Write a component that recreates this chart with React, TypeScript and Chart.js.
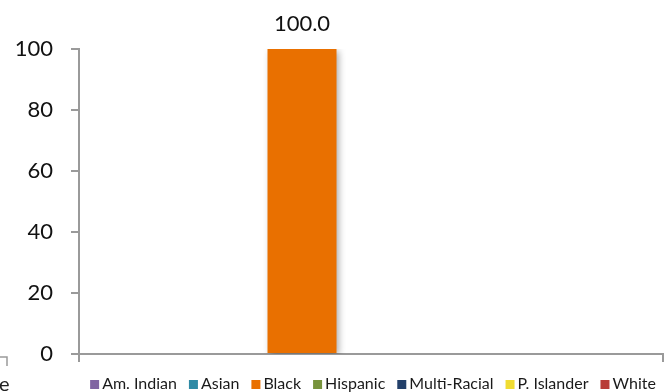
import React, { useEffect, useRef } from "react";
import { Chart, registerables } from "chart.js";

Chart.register(...registerables);

const categories = [""];
const seriesNames = ["Am. Indian", "Asian", "Black", "Hispanic", "Multi-Racial", "P. Islander", "White"];
const seriesValues: (number | null)[] = [null, null, 100, null, null, null, null];
const seriesColors = ["#8064a2", "#2f8aa5", "#e97000", "#77933c", "#23406a", "#f0dc32", "#b83c37"];
const yMin = 0;
const yMax = 100;
const yStep = 20;

const FONT = "Lato, 'Open Sans', sans-serif";
const AXIS_COLOR = "#9a9a9a";

const shadowPlugin = {
  id: "barShadow",
  beforeDatasetsDraw(chart: any) {
    const ctx = chart.ctx;
    ctx.save();
    ctx.shadowColor = "rgba(0,0,0,0.35)";
    ctx.shadowBlur = 7;
    ctx.shadowOffsetX = 2;
    ctx.shadowOffsetY = 2;
  },
  afterDatasetsDraw(chart: any) {
    chart.ctx.restore();
  },
};

const valueLabelPlugin = {
  id: "valueLabels",
  afterDatasetsDraw(chart: any) {
    const ctx = chart.ctx;
    ctx.save();
    ctx.font = `22px ${FONT}`;
    ctx.fillStyle = "#111";
    ctx.textAlign = "center";
    ctx.textBaseline = "alphabetic";
    chart.data.datasets.forEach((ds: any, i: number) => {
      const meta = chart.getDatasetMeta(i);
      meta.data.forEach((el: any, j: number) => {
        const v = ds.data[j];
        if (v === null || v === undefined) return;
        ctx.fillText(Number(v).toFixed(1), el.x, el.y - 18);
      });
    });
    ctx.restore();
  },
};

const legendPlugin = {
  id: "customLegend",
  afterDraw(chart: any) {
    const ctx = chart.ctx;
    ctx.save();
    ctx.font = `16px ${FONT}`;
    const box = 9;
    const boxGap = 3;
    const itemGap = 12;
    const items = chart.data.datasets.map((ds: any) => ({
      label: ds.label as string,
      color: ds.backgroundColor as string,
      w: ctx.measureText(ds.label).width,
    }));
    const total =
      items.reduce((s: number, it: any) => s + box + boxGap + it.w, 0) + itemGap * (items.length - 1);
    const center = 373;
    let x = center - total / 2;
    const baseline = 389;
    items.forEach((it: any) => {
      ctx.fillStyle = it.color;
      ctx.fillRect(x, baseline - box, box, box);
      ctx.fillStyle = "#1a1a1a";
      ctx.textAlign = "left";
      ctx.textBaseline = "alphabetic";
      ctx.fillText(it.label, x + box + boxGap, baseline);
      x += box + boxGap + it.w + itemGap;
    });
    // cropped fragment of neighbouring content at the bottom-left edge
    ctx.strokeStyle = AXIS_COLOR;
    ctx.lineWidth = 1.5;
    ctx.beginPath();
    ctx.moveTo(0, 357);
    ctx.lineTo(7, 357);
    ctx.lineTo(7, 366);
    ctx.stroke();
    ctx.font = `20px ${FONT}`;
    ctx.fillStyle = "#222";
    ctx.fillText("e", -1, 391);
    ctx.restore();
  },
};

export default function App() {
  const ref = useRef<HTMLCanvasElement | null>(null);

  useEffect(() => {
    if (!ref.current) return;
    const chart = new Chart(ref.current, {
      type: "bar",
      data: {
        labels: categories,
        datasets: seriesNames.map((name, i) => ({
          label: name,
          data: [seriesValues[i]],
          backgroundColor: seriesColors[i],
          borderWidth: 0,
          categoryPercentage: 0.827,
          barPercentage: 1.0,
        })),
      },
      options: {
        responsive: false,
        animation: false,
        layout: { padding: { top: 49, right: 3, bottom: 30, left: 0 } },
        plugins: {
          legend: { display: false },
          tooltip: { enabled: false },
          title: { display: false },
        },
        scales: {
          x: {
            grid: {
              display: true,
              drawOnChartArea: false,
              drawTicks: true,
              tickLength: 8,
              color: AXIS_COLOR,
              lineWidth: 2,
              offset: true,
            },
            border: { display: true, color: AXIS_COLOR, width: 2 },
            ticks: { display: false },
          },
          y: {
            min: yMin,
            max: yMax,
            ticks: {
              stepSize: yStep,
              padding: 18,
              color: "#111",
              font: { family: FONT, size: 22 },
            },
            grid: {
              display: true,
              drawOnChartArea: false,
              drawTicks: true,
              tickLength: 8,
              color: AXIS_COLOR,
              lineWidth: 2,
            },
            border: { display: true, color: AXIS_COLOR, width: 2 },
            afterFit(scale: any) {
              scale.width = 79;
            },
          },
        },
      },
      plugins: [shadowPlugin, valueLabelPlugin, legendPlugin],
    });
    return () => chart.destroy();
  }, []);

  return (
    <div style={{ position: "absolute", left: 0, top: 0, width: 666, height: 392, background: "#fff" }}>
      <canvas ref={ref} width={666} height={392} style={{ display: "block" }} />
    </div>
  );
}
